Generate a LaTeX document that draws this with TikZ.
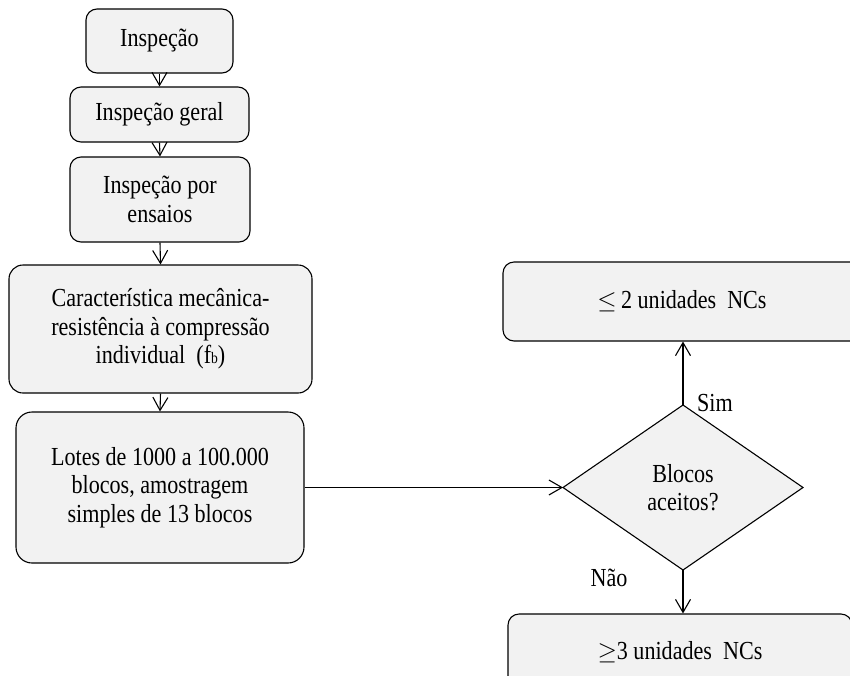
\documentclass[tikz,border=0pt]{standalone}
\usepackage{fontspec}
\setmainfont{Liberation Serif}[FakeStretch=0.85]
\usetikzlibrary{shapes.geometric,arrows.meta}
\definecolor{boxfill}{HTML}{F2F2F2}
\begin{document}
\begin{tikzpicture}[x=1pt,y=-1pt,
  every node/.style={font=\fontsize{26}{28.5}\selectfont, align=center, inner sep=0pt},
  procbox/.style={draw, line width=1.1pt, fill=boxfill, rounded corners=11pt},
  flow/.style={line width=1.1pt, -{Straight Barb[length=13pt,width=15pt,line width=1.1pt]}},
  lbl/.style={font=\fontsize{26}{28.5}\selectfont}]
\useasboundingbox (0,0) rectangle (850,675);
\clip (0,0) rectangle (850,675);

% left column of process steps
\node[procbox, minimum width=147pt, minimum height=64pt] (insp) at (159.5,41) {Inspeção};
\node[procbox, minimum width=179pt, minimum height=55pt] (geral) at (159.5,114.5) {Inspeção geral};
\node[procbox, minimum width=180pt, minimum height=85pt] (ensaios) at (160,199.5) {Inspeção por\\ensaios};
\node[procbox, rounded corners=14pt, minimum width=303pt, minimum height=128pt] (carac) at (160.5,329)
  {Característica mecânica-\\resistência à compressão\\individual\ \ (f{\fontsize{16}{16}\selectfont b})};
\node[procbox, rounded corners=16pt, minimum width=288pt, minimum height=151pt] (lotes) at (160,487.5)
  {Lotes de 1000 a 100.000\\blocos, amostragem\\simples de 13 blocos};

% decision and outcomes
\draw[line width=1.1pt, fill=boxfill] (683,405) coordinate (dtop) -- (803,487.5) coordinate (dright)
  -- (683,570) coordinate (dbot) -- (563,487.5) coordinate (dleft) -- cycle;
\node (dec) at (683,487.5) {Blocos\\aceitos?};
\node[procbox, minimum width=358pt, minimum height=79pt] (ok) at (682,301.5) {$\leq$\,2 unidades\ \ NCs};
\node[procbox, minimum width=344pt, minimum height=76pt] (nok) at (680,652) {$\geq$3 unidades\ \ NCs};

% connectors
\draw[flow] (insp.south) -- (geral.north);
\draw[flow] (geral.south) -- (ensaios.north);
\draw[flow] (ensaios.south) -- (carac.north);
\draw[flow] (carac.south) -- (lotes.north);
\draw[flow] (lotes.east) -- (dleft);
\draw[flow] (dtop) -- (dtop |- ok.south);
\draw[flow] (dbot) -- (dbot |- nok.north);

% branch labels
\node[lbl] (sim) at (715,403) {Sim};
\node[lbl] (nao) at (609,578) {Não};
\end{tikzpicture}
\end{document}
